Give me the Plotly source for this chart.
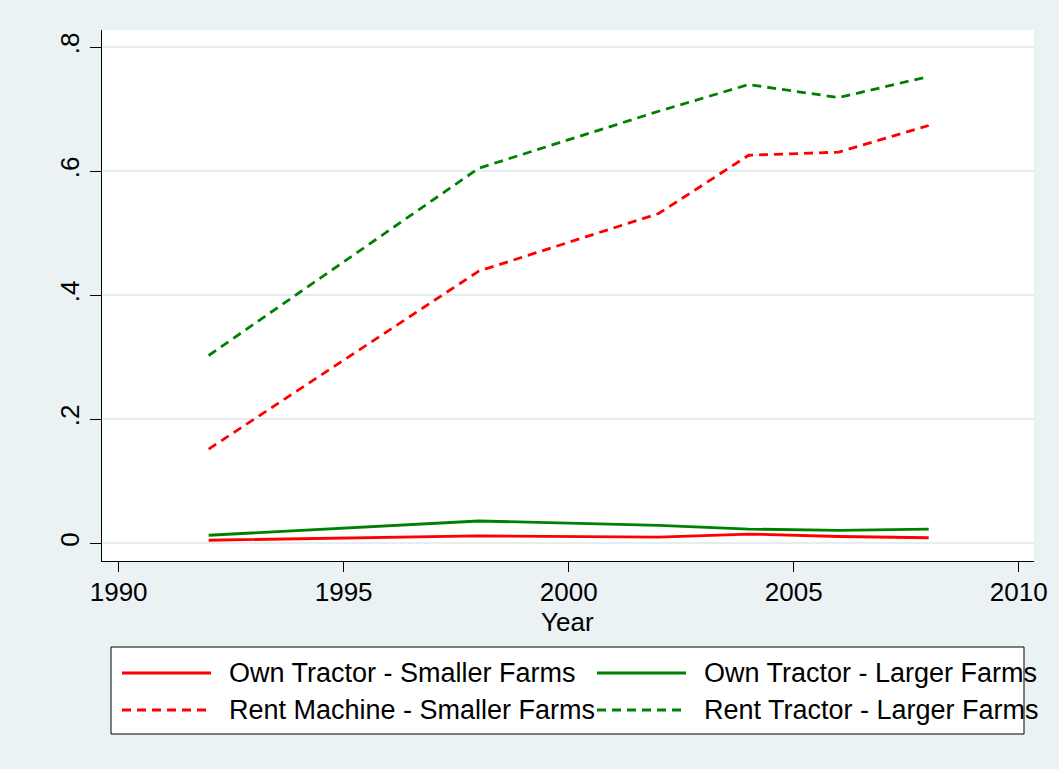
import plotly.graph_objects as go

years = [1992, 1998, 2002, 2004, 2006, 2008]
own_small = [0.005, 0.012, 0.010, 0.015, 0.011, 0.009]
own_large = [0.013, 0.036, 0.029, 0.023, 0.021, 0.023]
rent_small = [0.152, 0.439, 0.532, 0.626, 0.631, 0.674]
rent_large = [0.303, 0.605, 0.697, 0.740, 0.719, 0.753]

x_ticks = [1990, 1995, 2000, 2005, 2010]
y_ticks = [0, 0.2, 0.4, 0.6, 0.8]
y_tick_labels = ["0", ".2", ".4", ".6", ".8"]

names = ["Own Tractor - Smaller Farms", "Own Tractor - Larger Farms",
         "Rent Machine - Smaller Farms", "Rent Tractor - Larger Farms"]
series = [own_small, own_large, rent_small, rent_large]
colors = ["#FF0000", "#008000", "#FF0000", "#008000"]
dashes = ["solid", "solid", "9px,6px", "9px,6px"]

BG = "#EAF2F3"
FONT = "Liberation Sans, Arial, sans-serif"
W, H = 1059, 769
ML, MR, MT, MB = 102, 25, 30, 208
PW, PH = W - ML - MR, H - MT - MB

def px_x(p):
    return (p - ML) / PW

def px_y(p):
    return (H - MB - p) / PH

fig = go.Figure()
for name, ys, c, d in zip(names, series, colors, dashes):
    fig.add_trace(go.Scatter(x=years, y=ys, mode="lines", name=name,
                             line=dict(color=c, width=2.8, dash=d),
                             showlegend=False))

shapes = [dict(type="rect", xref="paper", yref="paper",
               x0=px_x(111), x1=px_x(1024), y0=px_y(734), y1=px_y(647),
               line=dict(color="black", width=1), fillcolor="white", layer="below")]
annotations = []
legend_pos = [(122, 673), (597, 673), (122, 710), (597, 710)]
for (lx, ly), name, c, d in zip(legend_pos, names, colors, dashes):
    shapes.append(dict(type="line", xref="paper", yref="paper",
                       x0=px_x(lx), x1=px_x(lx + 89), y0=px_y(ly), y1=px_y(ly),
                       line=dict(color=c, width=2.8, dash=d)))
    annotations.append(dict(xref="paper", yref="paper", x=px_x(lx + 105), y=px_y(ly),
                            text=name, showarrow=False, xanchor="left", yanchor="middle",
                            font=dict(family=FONT, size=27, color="black")))

annotations.append(dict(xref="paper", yref="paper", x=px_x(567), y=px_y(622),
                        text="Year", showarrow=False, xanchor="center", yanchor="middle",
                        font=dict(family=FONT, size=26, color="black")))

fig.update_layout(
    width=W, height=H,
    margin=dict(l=ML, r=MR, t=MT, b=MB),
    paper_bgcolor=BG, plot_bgcolor="white",
    font=dict(family=FONT, size=26, color="black"),
    shapes=shapes, annotations=annotations,
    xaxis=dict(range=[1989.63, 2010.34], tickvals=x_ticks, showgrid=False,
               zeroline=False, showline=True, linecolor="black", linewidth=1.3,
               ticks="outside", ticklen=10, tickwidth=1, tickcolor="black",
               tickfont=dict(size=26), ticklabelstandoff=-2),
    yaxis=dict(range=[-0.0285, 0.828], tickvals=y_ticks, ticktext=y_tick_labels,
               tickangle=-90, showgrid=True, gridcolor="#E4EDEF", gridwidth=2,
               zeroline=False, showline=True, linecolor="black", linewidth=1.3,
               ticks="outside", ticklen=11, tickwidth=1, tickcolor="black",
               tickfont=dict(size=26), ticklabelstandoff=0),
)

fig.write_html("out.html", config={"displayModeBar": False},
               post_script="document.body.style.margin='0';document.body.style.overflow='hidden';")
